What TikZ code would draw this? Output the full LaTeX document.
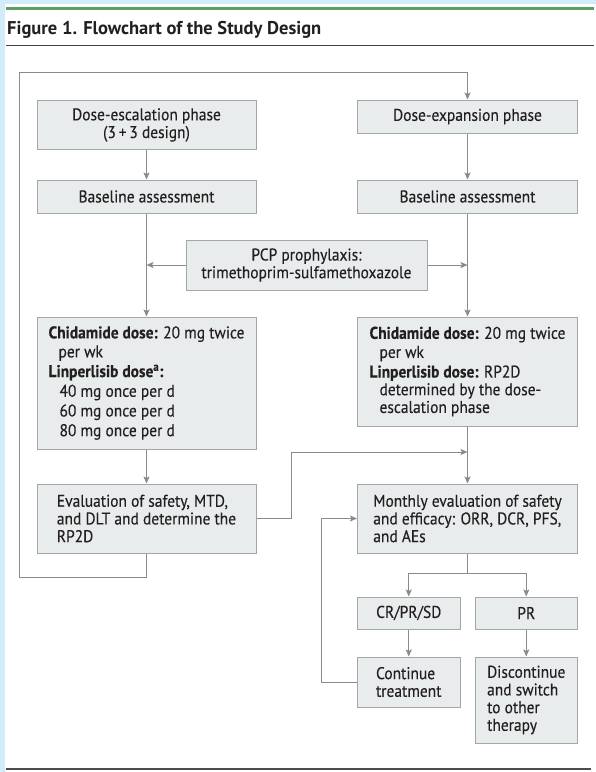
\documentclass[tikz,border=0pt]{standalone}
\usepackage{fontspec}
\setmainfont{PT Sans}
\newfontfamily\boxfont{PT Sans}[FakeStretch=0.91, FakeBold=0.25]
\usepackage{xcolor}
\usetikzlibrary{arrows.meta}
\usetikzlibrary{positioning}
\usetikzlibrary{calc}
\definecolor{boxfill}{HTML}{E8ECEC}
\definecolor{boxline}{HTML}{A3A6A6}
\definecolor{flowline}{HTML}{8A8A8A}
\definecolor{txt}{HTML}{231F20}
\definecolor{jamagreen}{HTML}{5A9E63}
\definecolor{edgeblue}{HTML}{D3ECF9}

\begin{document}
\begin{tikzpicture}[x=1pt,y=-1pt,
	box/.style={draw=boxline, fill=boxfill, line width=1pt, text=txt, align=left, inner sep=0pt, font=\boxfont\fontsize{17}{17.7}\selectfont},
	arr/.style={draw=flowline, line width=1pt, -{Stealth[length=7pt,width=6pt,inset=1.5pt]}},
	flow/.style={draw=flowline, line width=1pt}]
				% page frame
				\useasboundingbox (0,0) rectangle (596,772);
				\fill[edgeblue] (0,0) rectangle (596,4);
				\fill[edgeblue] (0,0) rectangle (5,772);
				\draw[jamagreen, line width=3pt] (6,8.5) -- (594,8.5);
				\node[anchor=base west, inner sep=0pt, text=txt, font=\fontsize{18.5}{21}\selectfont\bfseries] (title) at (7,34) {Figure 1. Flowchart of the Study Design};
				\draw[black!75, line width=1.3pt] (6,45.5) -- (594,45.5);
				\draw[black!70, line width=2pt] (5.5,769) -- (591,769);
				
				% left column
				\node[box, align=center, minimum width=219pt, minimum height=49.5pt] (esc) at (146.5,125) {Dose-escalation phase\\(3\,+\,3 design)};
				\node[box, minimum width=219pt, minimum height=33pt] (baseL) at (146.5,196.5) {Baseline assessment};
				\node[box, minimum width=219pt, minimum height=132pt] (chidL) at (146.5,383) {\textbf{Chidamide dose:} 20 mg twice\\[1.3pt]
					\hspace*{10pt}per wk\\[2pt]
					\textbf{Linperlisib dose\textsuperscript{a}:}\\[2pt]
					\hspace*{11pt}40 mg once per d\\[2pt]
					\hspace*{11pt}60 mg once per d\\[2pt]
					\hspace*{11pt}80 mg once per d};
				\node[box, minimum width=219pt, minimum height=69pt] (evalL) at (146.5,518.5) {Evaluation of safety, MTD,\\and DLT and determine the\\RP2D};
				
				% right column
				\node[box, minimum width=220pt, minimum height=33pt] (exp) at (467.5,116.5) {Dose-expansion phase};
				\node[box, minimum width=220pt, minimum height=33pt] (baseR) at (467.5,196.5) {Baseline assessment};
				\node[box, minimum width=220pt, minimum height=109pt] (chidR) at (467.5,371.5) {\textbf{Chidamide dose:} 20 mg twice\\[1.3pt]
					\hspace*{10pt}per wk\\[2pt]
					\textbf{Linperlisib dose:} RP2D\\
					\hspace*{10pt}determined by the dose-\\
					\hspace*{10pt}escalation phase};
				\node[box, minimum width=220pt, minimum height=69pt] (monthly) at (467.5,518.5) {Monthly evaluation of safety\\and efficacy: ORR, DCR, PFS,\\and AEs};
				\node[box, align=center, minimum width=102.5pt, minimum height=32pt] (crpr) at (408.75,613) {CR/PR/SD};
				\node[box, align=center, minimum width=102.5pt, minimum height=32pt] (pr) at (526.25,613) {PR};
				\node[box, minimum width=102.5pt, minimum height=50pt] (cont) at (408.75,682) {Continue\\treatment};
				\node[box, minimum width=102.5pt, minimum height=86pt] (disc) at (526.25,700) {Discontinue\\and switch\\to other\\therapy};
				
				% shared prophylaxis
				\node[box, align=center, minimum width=241pt, minimum height=50pt] (pcp) at (306.5,265) {PCP prophylaxis:\\trimethoprim-sulfamethoxazole};
				
				% connectors
				\coordinate (loopBL) at (19,577);
				\coordinate (loopTL) at (19,72);
				\coordinate (hopL) at (291,452);
				\coordinate (joinR) at (467.5,452);
				\coordinate (split) at (467.5,573);
				\draw[arr] (esc) -- (baseL);
				\draw[arr] (baseL) -- (chidL);
				\draw[arr] (exp) -- (baseR);
				\draw[arr] (baseR) -- (chidR);
				\draw[arr] (pcp.west) -- (pcp.west -| baseL.south);
				\draw[arr] (pcp.east) -- (pcp.east -| baseR.south);
				\draw[arr] (chidL) -- (evalL);
				\draw[arr] (chidR) -- (monthly);
				\draw[arr] (evalL.east) -| (hopL) -- (joinR);
				\draw[arr] (evalL.south) |- (loopBL) -- (loopTL) -| (exp.north);
				\draw[flow] (monthly.south) -- (split);
				\draw[arr] (split) -| (crpr.north);
				\draw[arr] (split) -| (pr.north);
				\draw[arr] (crpr) -- (cont);
				\draw[arr] (pr) -- (disc);
				\draw[arr] (cont.west) -- ++(-36,0) |- (monthly.west);
			\end{tikzpicture}
\end{document}
